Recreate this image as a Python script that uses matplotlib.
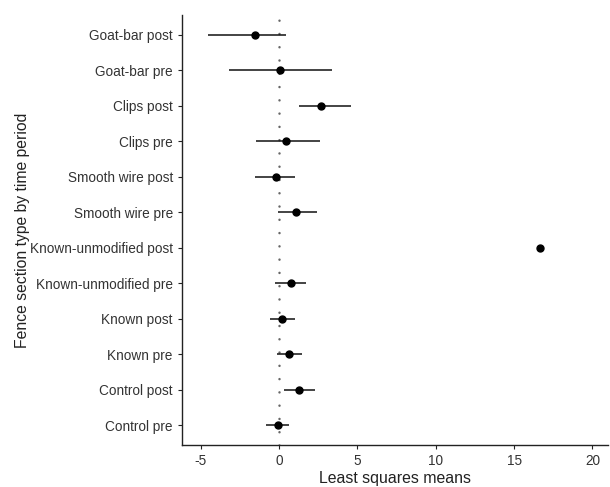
import numpy as np
import matplotlib
matplotlib.use("Agg")
import matplotlib.pyplot as plt

plt.rcParams['font.family'] = ['Liberation Sans', 'DejaVu Sans']
plt.rcParams['axes.unicode_minus'] = False

# categories from bottom to top
labels = ["Control pre", "Control post", "Known pre", "Known post",
          "Known-unmodified pre", "Known-unmodified post",
          "Smooth wire pre", "Smooth wire post", "Clips pre", "Clips post",
          "Goat-bar pre", "Goat-bar post"]
means = [-0.06, 1.28, 0.66, 0.22, 0.75, 16.64, 1.11, -0.21, 0.47, 2.68, 0.04, -1.53]
lower = [-0.80, 0.34, -0.10, -0.59, -0.23, np.nan, -0.06, -1.53, -1.44, 1.26, -3.21, -4.53]
upper = [0.64, 2.28, 1.45, 1.05, 1.70, np.nan, 2.41, 1.05, 2.62, 4.62, 3.36, 0.43]

y = np.arange(len(labels))

fig = plt.figure(figsize=(6.1, 4.87), dpi=100)
ax = fig.add_axes([0.298, 0.086, 0.699, 0.883])

vl = ax.axvline(0, color='#666666', linestyle=(0, (0.01, 5.3)), linewidth=1.8, zorder=1)
vl.set_dash_capstyle('round')
ax.hlines(y, lower, upper, color='#111111', linewidth=1.1, zorder=2)
ax.plot(means, y, 'o', color='black', markersize=5, zorder=3)

ax.set_xlim(-6.2, 21.0)
ax.set_ylim(-0.56, 11.56)
ax.set_xticks([-5, 0, 5, 10, 15, 20])
ax.set_yticks(y)
ax.set_yticklabels(labels)

for s in ['top', 'right']:
    ax.spines[s].set_visible(False)
for s in ['left', 'bottom']:
    ax.spines[s].set_color('#222222')
    ax.spines[s].set_linewidth(1.0)

ax.tick_params(axis='both', labelsize=9.8, colors='#222222', length=3, width=0.8,
               labelcolor='#333333')
ax.set_xlabel("Least squares means", fontsize=11.4, color='#222222', labelpad=2)
ax.set_ylabel("Fence section type by time period", fontsize=11.3, color='#222222', labelpad=0)

fig.savefig("out.png", dpi=100)
